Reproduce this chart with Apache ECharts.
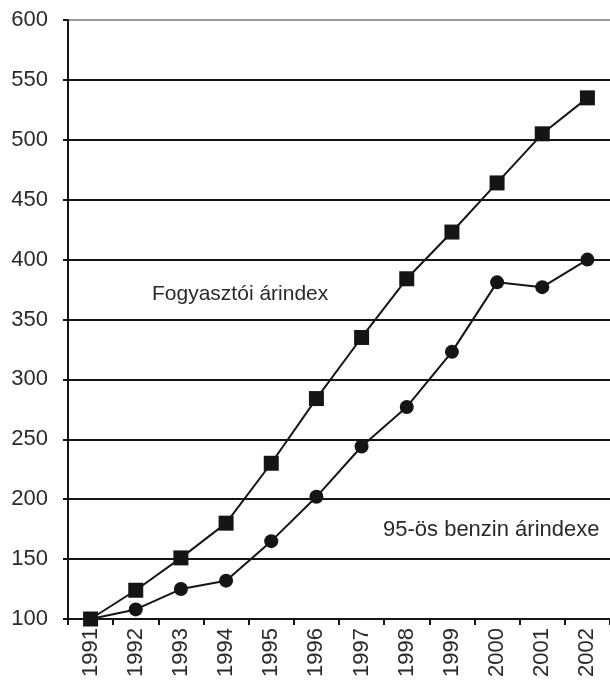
<!DOCTYPE html>
<html>
<head>
<meta charset="utf-8">
<style>
  html, body { margin: 0; padding: 0; background: #fff; }
  #chart { width: 610px; height: 686px; }
</style>
<script src="https://cdn.jsdelivr.net/npm/echarts@6/dist/echarts.min.js"></script>
</head>
<body>
<div id="chart"></div>
<script>
var years = ['1991', '1992', '1993', '1994', '1995', '1996', '1997', '1998', '1999', '2000', '2001', '2002'];
// Fogyasztói árindex (négyzet)
var fogyasztoi = [100, 124, 151, 180, 230, 284, 335, 384, 423, 464, 505, 535];
// 95-ös benzin árindexe (kör)
var benzin = [100, 108, 125, 132, 165, 202, 244, 277, 323, 381, 377, 400];
var yTicks = { min: 100, max: 600, step: 50 };

var chart = echarts.init(document.getElementById('chart'));
var ink = '#151515';
var font = 'Liberation Sans, Arial, sans-serif';

// a legfelső vonal szürke, a többi fekete
var gridColors = [];
for (var i = 0; i < 10; i++) gridColors.push(ink);
gridColors.push('#9a9a9a');

var option = {
  backgroundColor: '#fff',
  animation: false,
  grid: { left: 68, right: -3, top: 20, bottom: 67 },
  xAxis: {
    type: 'category',
    data: years,
    boundaryGap: true,
    axisLine: { lineStyle: { color: ink, width: 2 } },
    axisTick: { show: true, length: 6, lineStyle: { color: ink, width: 2 } },
    axisLabel: {
      rotate: 90,
      margin: 9,
      color: '#2a2a2a',
      fontSize: 22,
      fontFamily: font,
      interval: 0
    },
    splitLine: { show: false }
  },
  yAxis: {
    type: 'value',
    min: yTicks.min,
    max: yTicks.max,
    interval: yTicks.step,
    axisLine: { show: true, lineStyle: { color: ink, width: 2 } },
    axisTick: { show: true, length: 5, lineStyle: { color: ink, width: 2 } },
    axisLabel: { margin: 20, color: '#2a2a2a', fontSize: 22, fontFamily: font },
    splitLine: { show: true, lineStyle: { color: gridColors, width: 2 } }
  },
  series: [
    {
      name: 'Fogyasztói árindex',
      type: 'line',
      data: fogyasztoi,
      symbol: 'rect',
      symbolSize: 15,
      lineStyle: { color: ink, width: 2 },
      itemStyle: { color: ink }
    },
    {
      name: '95-ös benzin árindexe',
      type: 'line',
      data: benzin,
      symbol: 'circle',
      symbolSize: 14,
      lineStyle: { color: ink, width: 2 },
      itemStyle: { color: ink }
    }
  ],
  graphic: [
    {
      type: 'text', left: 152, top: 284,
      style: { text: 'Fogyasztói árindex', fill: '#2a2a2a', font: '21px ' + font }
    },
    {
      type: 'text', left: 383, top: 519,
      style: { text: '95-ös benzin árindexe', fill: '#2a2a2a', font: '22px ' + font }
    }
  ]
};
chart.setOption(option);
</script>
</body>
</html>
